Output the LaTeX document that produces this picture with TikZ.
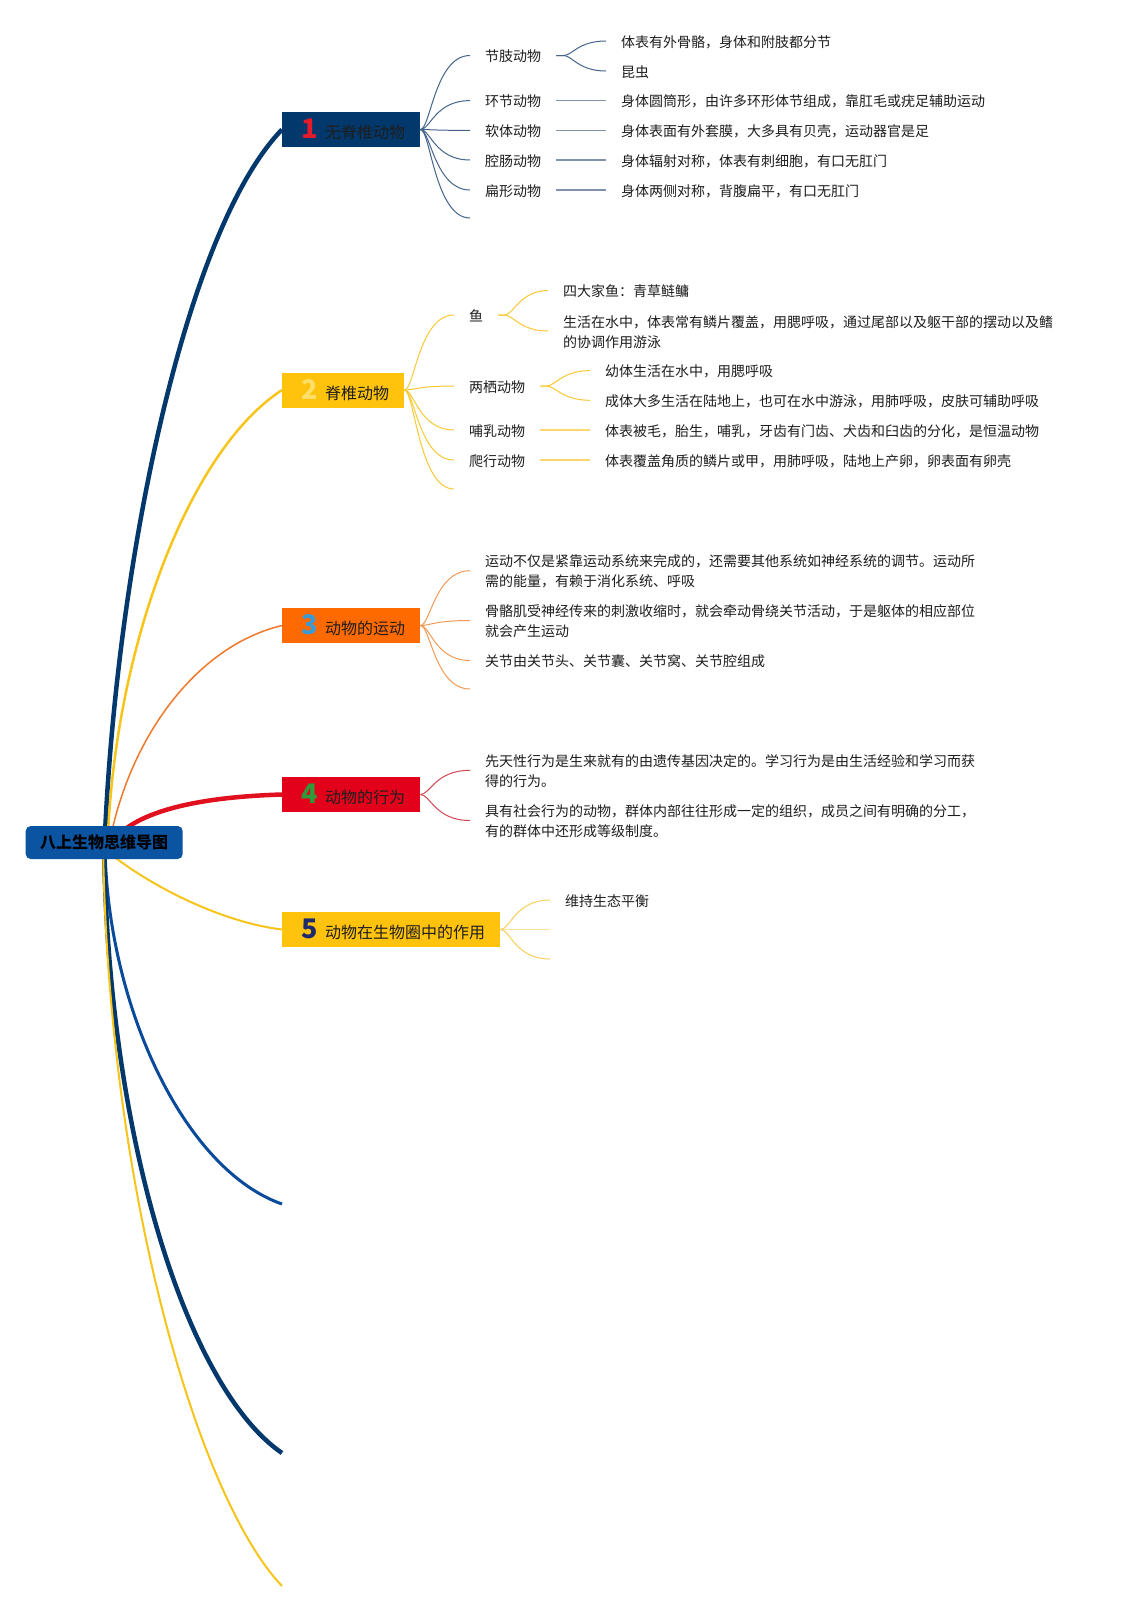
\documentclass[tikz,border=0pt]{standalone}
\usepackage{fontspec}
\setmainfont{Noto Sans CJK SC}
\usetikzlibrary{backgrounds}
\definecolor{navy}{HTML}{02386C}
\definecolor{rootblue}{HTML}{0B54A2}
\definecolor{ylw}{HTML}{FFC30D}
\definecolor{ylwline}{HTML}{F7C41B}
\definecolor{orng}{HTML}{FF6A00}
\definecolor{orngline}{HTML}{F0782A}
\definecolor{redbox}{HTML}{E3001B}
\definecolor{redline}{HTML}{E0101F}
\definecolor{blueline}{HTML}{0A4A9B}
\definecolor{num1}{HTML}{E31B2C}
\definecolor{num2}{HTML}{FFE066}
\definecolor{num3}{HTML}{3A9AD6}
\definecolor{num4}{HTML}{2E9A3A}
\definecolor{num5}{HTML}{1D2A6C}
\definecolor{sub1}{HTML}{45648C}
\definecolor{sub1b}{HTML}{7F91AB}
\definecolor{sub2}{HTML}{F8C932}
\definecolor{sub2b}{HTML}{FAD76E}
\definecolor{sub3}{HTML}{F29A55}
\definecolor{sub4}{HTML}{D24652}
\definecolor{sub5}{HTML}{F6D05A}
\definecolor{sub5b}{HTML}{FBE2A0}
\definecolor{txt}{HTML}{1E1E1E}
\newcommand{\mmlabel}[3]{\hspace*{18pt}\makebox[20pt][c]{\bfseries\fontsize{27}{27}\selectfont\color{#1}#2}\hspace{5pt}#3\hspace*{15pt}}
\tikzset{
  mainbox/.style={rectangle, anchor=west, minimum height=35pt, inner sep=0pt, font=\fontsize{16}{18}\selectfont, text=txt},
  twig/.style={anchor=west, inner xsep=15pt, inner ysep=2pt, font=\fontsize{14}{20}\selectfont, text=txt},
  leaf/.style={twig, align=left},
  fanA/.style={draw=sub1, line width=1pt},
  forkA/.style={draw=sub1b, line width=1.2pt},
  fanB/.style={draw=sub2, line width=1pt},
  forkB/.style={draw=sub2b, line width=1.2pt},
  fanC/.style={draw=sub3, line width=1pt},
  fanD/.style={draw=sub4, line width=1pt},
  fanE/.style={draw=sub5, line width=1pt},
  forkE/.style={draw=sub5b, line width=1.6pt},
}
\begin{document}
\begin{tikzpicture}[x=1pt,y=-1pt]
\useasboundingbox (0,0) rectangle (1123,1610);

% root
\node[rectangle, rounded corners=5pt, fill=rootblue, minimum width=157pt, minimum height=33pt, inner sep=0pt, font=\bfseries\fontsize{16}{18}\selectfont, text=black] (root) at (104.2,842.5) {八上生物思维导图};

% main boxes
\node[mainbox, fill=navy] (b1) at (282,129.5) {\mmlabel{num1}{1}{无脊椎动物}};
\node[mainbox, fill=ylw] (b2) at (282,390) {\mmlabel{num2}{2}{脊椎动物}};
\node[mainbox, fill=orng] (b3) at (282,625.5) {\mmlabel{num3}{3}{动物的运动}};
\node[mainbox, fill=redbox] (b4) at (282,794.5) {\mmlabel{num4}{4}{动物的行为}};
\node[mainbox, fill=ylw] (b5) at (282,929.5) {\mmlabel{num5}{5}{动物在生物圈中的作用}};

\coordinate (e6) at (282,1204);
\coordinate (e7) at (282,1453);
\coordinate (e8) at (282,1586);

% branch 1
\node[twig] (l11) at (470,56.5) {节肢动物};
\node[twig] (l12) at (470,101.6) {环节动物};
\node[twig] (l13) at (470,131.4) {软体动物};
\node[twig] (l14) at (470,161) {腔肠动物};
\node[twig] (l15) at (470,191) {扁形动物};
\coordinate (x1) at (470,219);
\node[leaf] (c11a) at (606,42) {体表有外骨骼，身体和附肢都分节};
\node[leaf] (c11b) at (606,72) {昆虫};
\node[leaf] (c12) at (606,101.6) {身体圆筒形，由许多环形体节组成，靠肛毛或疣足辅助运动};
\node[leaf] (c13) at (606,131.4) {身体表面有外套膜，大多具有贝壳，运动器官是足};
\node[leaf] (c14) at (606,161) {身体辐射对称，体表有刺细胞，有口无肛门};
\node[leaf] (c15) at (606,191) {身体两侧对称，背腹扁平，有口无肛门};

% branch 2
\node[twig] (l21) at (454,316) {鱼};
\node[twig] (l22) at (454,387) {两栖动物};
\node[twig] (l23) at (454,431) {哺乳动物};
\node[twig] (l24) at (454,461) {爬行动物};
\coordinate (x2) at (454,490);
\node[leaf] (c21a) at (548,291.5) {四大家鱼：青草鲢鳙};
\node[leaf] (c21b) at (548,332) {生活在水中，体表常有鳞片覆盖，用腮呼吸，通过尾部以及躯干部的摆动以及鳍\\的协调作用游泳};
\node[leaf] (c22a) at (590,371.6) {幼体生活在水中，用腮呼吸};
\node[leaf] (c22b) at (590,401.3) {成体大多生活在陆地上，也可在水中游泳，用肺呼吸，皮肤可辅助呼吸};
\node[leaf] (c23) at (590,431) {体表被毛，胎生，哺乳，牙齿有门齿、犬齿和臼齿的分化，是恒温动物};
\node[leaf] (c24) at (590,461) {体表覆盖角质的鳞片或甲，用肺呼吸，陆地上产卵，卵表面有卵壳};

% branch 3
\node[leaf] (c31) at (470,571.7) {运动不仅是紧靠运动系统来完成的，还需要其他系统如神经系统的调节。运动所\\需的能量，有赖于消化系统、呼吸};
\node[leaf] (c32) at (470,621.5) {骨骼肌受神经传来的刺激收缩时，就会牵动骨绕关节活动，于是躯体的相应部位\\就会产生运动};
\node[leaf] (c33) at (470,661.5) {关节由关节头、关节囊、关节窝、关节腔组成};
\coordinate (x3) at (470,690);

% branch 4
\node[leaf] (c41) at (470,771.3) {先天性行为是生来就有的由遗传基因决定的。学习行为是由生活经验和学习而获\\得的行为。};
\node[leaf] (c42) at (470,821.5) {具有社会行为的动物，群体内部往往形成一定的组织，成员之间有明确的分工，\\有的群体中还形成等级制度。};

% branch 5
\node[leaf] (c51) at (550,901) {维持生态平衡};
\coordinate (x5a) at (550,929.5);
\coordinate (x5b) at (550,959);

\begin{scope}[on background layer]
\fill[white] (0,0) rectangle (1123,1610);
% main curves
\draw[navy, line width=4.5pt] ([xshift=1pt,yshift=-4pt]root.north) .. controls (118,560) and (185,230) .. (b1.west);
\draw[ylwline, line width=2.5pt] ([xshift=4pt,yshift=-4pt]root.north) .. controls (118,640) and (190,450) .. (b2.west);
\draw[orngline, line width=1.5pt] ([xshift=8pt,yshift=-4pt]root.north) .. controls (135,730) and (200,645) .. (b3.west);
\draw[redline, line width=4.5pt] ([xshift=20pt,yshift=-4pt]root.north) .. controls (150,810) and (200,797) .. (b4.west);
\draw[ylwline, line width=2pt] ([xshift=8pt,yshift=4pt]root.south) .. controls (150,885) and (220,922) .. (b5.west);
\draw[blueline, line width=3pt] ([xshift=1pt,yshift=4pt]root.south) .. controls (110,1010) and (185,1170) .. (e6);
\draw[navy, line width=4.5pt] ([yshift=4pt]root.south) .. controls (110,1150) and (190,1390) .. (e7);
\draw[ylwline, line width=2pt] ([xshift=-1pt,yshift=4pt]root.south) .. controls (110,1200) and (200,1500) .. (e8);

% branch 1 fan
\foreach \t in {l11,l12,l13,l14,l15,x1}
  \draw[fanA] (b1.east) .. controls +(10,0) and +(-35,0) .. ([yshift=1pt]\t.west);
\draw[fanA] ([yshift=1pt]l11.east) -- ++(7,0) .. controls +(9,0) and +(-28,0) .. ([yshift=1pt]c11a.west);
\draw[fanA] ([yshift=1pt]l11.east) -- ++(7,0) .. controls +(9,0) and +(-28,0) .. ([yshift=1pt]c11b.west);
\draw[forkA] ([yshift=1pt]l12.east) -- ([yshift=1pt]c12.west);
\draw[forkA] ([yshift=1pt]l13.east) -- ([yshift=1pt]c13.west);
\draw[forkA] ([yshift=1pt]l14.east) -- ([yshift=1pt]c14.west);
\draw[forkA] ([yshift=1pt]l15.east) -- ([yshift=1pt]c15.west);

% branch 2 fan
\foreach \t in {l21,l22,l23,l24,x2}
  \draw[fanB] (b2.east) .. controls +(10,0) and +(-35,0) .. ([yshift=1pt]\t.west);
\draw[fanB] ([yshift=1pt]l21.east) -- ++(6,0) .. controls +(9,0) and +(-28,0) .. ([yshift=1pt]c21a.west);
\draw[fanB] ([yshift=1pt]l21.east) -- ++(6,0) .. controls +(9,0) and +(-28,0) .. ([yshift=1pt]c21b.west);
\draw[fanB] ([yshift=1pt]l22.east) -- ++(6,0) .. controls +(9,0) and +(-28,0) .. ([yshift=1pt]c22a.west);
\draw[fanB] ([yshift=1pt]l22.east) -- ++(6,0) .. controls +(9,0) and +(-28,0) .. ([yshift=1pt]c22b.west);
\draw[forkB] ([yshift=1pt]l23.east) -- ([yshift=1pt]c23.west);
\draw[forkB] ([yshift=1pt]l24.east) -- ([yshift=1pt]c24.west);

% branch 3 fan
\foreach \t in {c31,c32,c33,x3}
  \draw[fanC] (b3.east) .. controls +(10,0) and +(-35,0) .. ([yshift=1pt]\t.west);

% branch 4 fan
\foreach \t in {c41,c42}
  \draw[fanD] (b4.east) .. controls +(10,0) and +(-35,0) .. ([yshift=1pt]\t.west);

% branch 5 fan
\draw[fanE] (b5.east) .. controls +(10,0) and +(-35,0) .. ([yshift=1pt]c51.west);
\draw[forkE] (b5.east) -- (x5a);
\draw[fanE] (b5.east) .. controls +(10,0) and +(-35,0) .. (x5b);
\end{scope}
\end{tikzpicture}
\end{document}
